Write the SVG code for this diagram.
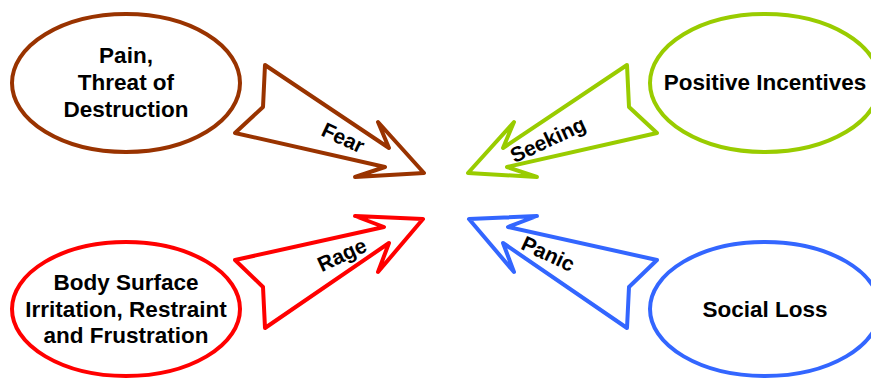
<svg xmlns="http://www.w3.org/2000/svg" width="871" height="378" viewBox="0 0 871 378">
<style>
.t{font-family:"Liberation Sans",Arial,sans-serif;font-weight:bold;font-size:22.5px;fill:#000;text-anchor:middle}
.l{font-family:"Liberation Sans",Arial,sans-serif;font-weight:bold;font-size:21px;fill:#000;text-anchor:middle}
.e{fill:#fff;stroke-width:4}
.a{fill:#fff;stroke-width:4;stroke-linejoin:round}
</style>
<rect width="871" height="378" fill="#fff"/>
<g id="pain">
<ellipse class="e" cx="126" cy="83" rx="114" ry="69" stroke="#993300"/>
<text class="t" x="126" y="63">Pain,</text>
<text class="t" x="126" y="90">Threat of</text>
<text class="t" x="126" y="117">Destruction</text>
</g>
<g id="body">
<ellipse class="e" cx="126" cy="309" rx="114" ry="67" stroke="#ff0000"/>
<text class="t" x="126" y="290">Body Surface</text>
<text class="t" x="126" y="317">Irritation, Restraint</text>
<text class="t" x="126" y="343">and Frustration</text>
</g>
<g id="positive">
<ellipse class="e" cx="765" cy="83" rx="115" ry="69" stroke="#99cc00"/>
<text class="t" x="765" y="90">Positive Incentives</text>
</g>
<g id="social">
<ellipse class="e" cx="765" cy="309" rx="115" ry="67" stroke="#3366ff"/>
<text class="t" x="765" y="317">Social Loss</text>
</g>
<g id="connectors">
<g id="fear">
<polygon class="a" stroke="#993300" points="424,173 355,177 385,167 235,133 263,107 265,65 389,148 378,122"/>
<text class="l" transform="translate(343,138) rotate(25)" y="7">Fear</text>
</g>
<g id="rage">
<polygon class="a" stroke="#ff0000" points="423,219 355,216 384,227 235,260 263,287 265,328 389,243 378,272"/>
<text class="l" transform="translate(342,255) rotate(-25)" y="7">Rage</text>
</g>
<g id="seeking">
<polygon class="a" stroke="#99cc00" points="468,173 537,177 507,167 657,133 629,107 627,65 503,148 514,122"/>
<text class="l" transform="translate(548,140) rotate(-25)" y="7">Seeking</text>
</g>
<g id="panic">
<polygon class="a" stroke="#3366ff" points="469,219 537,216 508,227 657,260 629,287 627,328 503,243 514,272"/>
<text class="l" transform="translate(548,254) rotate(25)" y="7">Panic</text>
</g>
</g>
</svg>
